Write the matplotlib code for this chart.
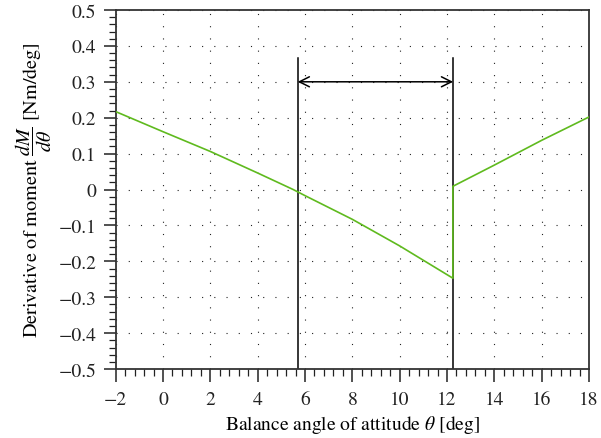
import matplotlib.pyplot as plt
import numpy as np
from matplotlib.ticker import MultipleLocator, FuncFormatter

plt.rcParams['font.family'] = ['STIXGeneral', 'DejaVu Serif']
plt.rcParams['mathtext.fontset'] = 'stix'
plt.rcParams['font.size'] = 14

# values
theta = [-2, 0, 2, 4, 5.5, 6, 8, 10, 12.25, 12.25, 14, 16, 18]
dmdt = [0.217, 0.161, 0.106, 0.046, 0.0, -0.017, -0.083, -0.157, -0.247,
        0.009, 0.068, 0.137, 0.202]
marks_x = [5.69, 12.26]
mark_top = 0.366
arrow_y = 0.3

fig = plt.figure(figsize=(6.01, 4.39), dpi=100)
ax = fig.add_axes([0.1925, 0.157, 0.7875, 0.818])

ax.plot(theta, dmdt, color='#5fba1e', lw=1.2, zorder=3)
for xv in marks_x:
    ax.plot([xv, xv], [-0.5, mark_top], color='black', lw=1.1, zorder=2)
ax.annotate('', xy=(marks_x[1], arrow_y), xytext=(marks_x[0], arrow_y),
            arrowprops=dict(arrowstyle='<->', color='black', lw=1.1,
                            shrinkA=0, shrinkB=0, mutation_scale=18))

ax.set_xlim(-2, 18)
ax.set_ylim(-0.5, 0.5)
ax.xaxis.set_major_locator(MultipleLocator(2))
ax.xaxis.set_minor_locator(MultipleLocator(0.4))
ax.yaxis.set_major_locator(MultipleLocator(0.1))
ax.yaxis.set_minor_locator(MultipleLocator(0.02))


def fmt(v, pos):
    if abs(v) < 1e-9:
        return '0'
    return ('%.1f' % v).replace('-', '\u2212')


ax.yaxis.set_major_formatter(FuncFormatter(fmt))
ax.xaxis.set_major_formatter(FuncFormatter(lambda v, p: ('%d' % round(v)).replace('-', '\u2212')))

ax.tick_params(which='major', direction='out', length=9, width=1.1, pad=5, colors='#222222')
ax.tick_params(axis='x', which='major', pad=7)
ax.tick_params(which='minor', direction='out', length=5, width=0.9, colors='#222222')
ax.tick_params(top=False, right=False)

for s in ax.spines.values():
    s.set_color('#333333')
    s.set_linewidth(1.3)

ax.grid(True, which='major', color='#222222', lw=0.8, linestyle=(0, (1, 10)))

ax.set_xlabel(r'Balance angle of attitude $\theta$ [deg]', labelpad=3)
ax.set_ylabel(r'Derivative of moment $\dfrac{dM}{d\theta}$ [Nm/deg]', labelpad=3,
              fontsize=14.5)

fig.savefig('out.png', dpi=100)
